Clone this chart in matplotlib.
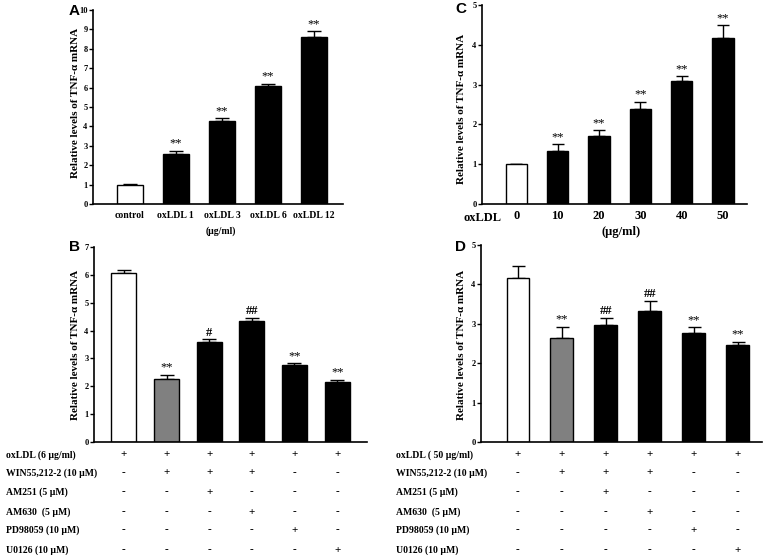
import matplotlib
matplotlib.use("Agg")
import matplotlib.pyplot as plt
from matplotlib.transforms import blended_transform_factory

W, H = 769, 555

# panel A: oxLDL dose (ug/ml)
a_labels = ["control", "oxLDL 1", "oxLDL 3", "oxLDL 6", "oxLDL 12"]
a_vals = [1.0, 2.6, 4.27, 6.08, 8.63]
a_err = [0.03, 0.15, 0.16, 0.12, 0.27]
a_marks = ["", "**", "**", "**", "**"]

# panel C: oxLDL dose (ug/ml)
c_labels = ["0", "10", "20", "30", "40", "50"]
c_vals = [1.0, 1.33, 1.71, 2.39, 3.08, 4.16]
c_err = [0.0, 0.17, 0.15, 0.18, 0.14, 0.33]
c_marks = ["", "**", "**", "**", "**", "**"]

# panel B: inhibitors at oxLDL 6 ug/ml
b_vals = [6.07, 2.27, 3.58, 4.34, 2.77, 2.15]
b_err = [0.1, 0.15, 0.1, 0.1, 0.07, 0.09]
b_marks = ["", "**", "#", "##", "**", "**"]

# panel D: inhibitors at oxLDL 50 ug/ml
d_vals = [4.15, 2.63, 2.97, 3.32, 2.76, 2.45]
d_err = [0.31, 0.3, 0.18, 0.25, 0.15, 0.1]
d_marks = ["", "**", "##", "##", "**", "**"]

bar_colors6 = ["white", "#808080", "black", "black", "black", "black"]

b_rows = ["oxLDL (6 μg/ml)", "WIN55,212-2 (10 μM)", "AM251 (5 μM)",
          "AM630  (5 μM)", "PD98059 (10 μM)", "U0126 (10 μM)"]
d_rows = ["oxLDL ( 50 μg/ml)", "WIN55,212-2 (10 μM)", "AM251 (5 μM)",
          "AM630  (5 μM)", "PD98059 (10 μM)", "U0126 (10 μM)"]
treat = [
    ["+", "+", "+", "+", "+", "+"],
    ["-", "+", "+", "+", "-", "-"],
    ["-", "-", "+", "-", "-", "-"],
    ["-", "-", "-", "+", "-", "-"],
    ["-", "-", "-", "-", "+", "-"],
    ["-", "-", "-", "-", "-", "+"],
]
row_y = [455, 473, 492, 512, 530, 550]

SERIF = "Liberation Serif"
SANS = "Liberation Sans"

fig = plt.figure(figsize=(W / 100, H / 100), dpi=100)


def add_ax(l, r, t, b):
    return fig.add_axes([l / W, 1 - b / H, (r - l) / W, (b - t) / H])


def bars(ax, vals, err, colors, marks, width, ymax, xlim, star_fs=9):
    x = list(range(len(vals)))
    ax.bar(x, vals, width=width, color=colors, edgecolor="black", linewidth=1.0, zorder=2)
    ax.errorbar(x, vals, yerr=[[0] * len(vals), err], fmt="none", ecolor="black",
                elinewidth=1.0, capsize=width * 9, capthick=1.0, zorder=1)
    for i, m in enumerate(marks):
        if m:
            ax.text(i, vals[i] + err[i] + ymax * 0.005, m, ha="center", va="bottom",
                    fontsize=star_fs, family=SERIF,
                    fontweight="bold" if m.startswith("#") else "normal")
    ax.set_xlim(*xlim)
    ax.set_ylim(0, ymax)
    ax.set_yticks(range(0, ymax + 1))
    ax.tick_params(axis="y", length=3, width=1, labelsize=6, pad=1)
    ax.tick_params(axis="x", length=0)
    for lab in ax.get_yticklabels():
        lab.set_family(SERIF)
        lab.set_fontweight("bold")
    for s in ["top", "right"]:
        ax.spines[s].set_visible(False)
    for s in ["left", "bottom"]:
        ax.spines[s].set_linewidth(1.2)


def ylabel(x, y):
    fig.text(x / W, 1 - y / H, "Relative levels of TNF-α mRNA", rotation=90,
             ha="center", va="center", fontsize=8, family=SERIF, fontweight="bold")


def letter(x, y, s):
    fig.text(x / W, 1 - y / H, s, ha="center", va="center", fontsize=11,
             family=SANS, fontweight="bold")


# ── A ──
axA = add_ax(93, 343, 10, 204)
bars(axA, a_vals, a_err, ["white"] + ["black"] * 4, a_marks, 0.57, 10, (-0.8, 4.63))
axA.set_xticks(range(len(a_labels)))
axA.set_xticklabels(a_labels, fontsize=7, family=SERIF, fontweight="bold")
axA.tick_params(axis="x", pad=5)
fig.text(221 / W, 1 - 231 / H, "(μg/ml)", ha="center", va="center", fontsize=7,
         family=SERIF, fontweight="bold")
ylabel(75, 103)
letter(74, 11, "A")

# ── C ──
axC = add_ax(482, 747, 5, 204)
bars(axC, c_vals, c_err, ["white"] + ["black"] * 5, c_marks, 0.51, 5, (-0.83, 5.58))
axC.set_xticks(range(len(c_labels)))
axC.set_xticklabels(c_labels, fontsize=9, family=SERIF, fontweight="bold")
axC.tick_params(axis="x", pad=4)
fig.text(482 / W, 1 - 218 / H, "oxLDL", ha="center", va="center", fontsize=9,
         family=SERIF, fontweight="bold")
fig.text(621 / W, 1 - 232 / H, "(μg/ml)", ha="center", va="center", fontsize=9,
         family=SERIF, fontweight="bold")
ylabel(461, 109)
letter(461, 9, "C")

# ── B ──
axB = add_ax(94, 367, 247, 442)
bars(axB, b_vals, b_err, bar_colors6, b_marks, 0.59, 7, (-0.7, 5.7))
axB.set_xticks([])
ylabel(75, 345)
letter(75, 247, "B")

# ── D ──
axD = add_ax(481, 762, 245, 442)
bars(axD, d_vals, d_err, bar_colors6, d_marks, 0.52, 5, (-0.84, 5.55))
axD.set_xticks([])
ylabel(461, 345)
letter(461, 247, "D")

# treatment tables under B and D
for ax, rows, x0 in [(axB, b_rows, 6), (axD, d_rows, 396)]:
    tr = blended_transform_factory(ax.transData, fig.transFigure)
    for r, (name, yy) in enumerate(zip(rows, row_y)):
        fig.text(x0 / W, 1 - yy / H, name, ha="left", va="center", fontsize=7,
                 family=SERIF, fontweight="bold")
        for i, sym in enumerate(treat[r]):
            ax.text(i, 1 - yy / H, sym, transform=tr, ha="center", va="center",
                    fontsize=8, family=SERIF, fontweight="bold", clip_on=False)

fig.savefig("out.png", dpi=100)
